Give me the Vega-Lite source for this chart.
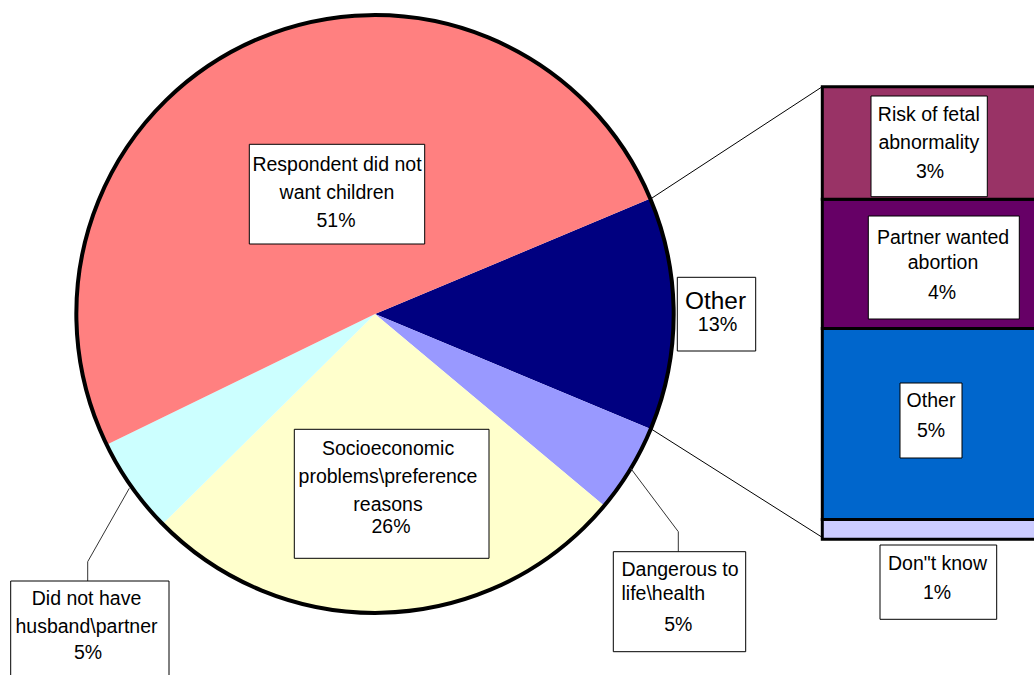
{
  "$schema": "https://vega.github.io/schema/vega-lite/v6.json",
  "width": 750,
  "height": 628,
  "padding": {"left": 0, "top": 0, "right": 284, "bottom": 47},
  "autosize": {"type": "none"},
  "background": "white",
  "config": {
    "view": {"stroke": null},
    "text": {"font": "Liberation Sans", "fontSize": 19.5, "color": "black"}
  },
  "datasets": {
    "pie": [
      {"category": "Other", "value": 12.6, "order": 1, "name": "Other", "pct": "13%"},
      {"category": "Dangerous to life\\health", "value": 4.8, "order": 2, "name": "Dangerous to\nlife\\health", "pct": "5%"},
      {"category": "Socioeconomic problems\\preference reasons", "value": 26.5, "order": 3, "name": "Socioeconomic\nproblems\\preference\nreasons", "pct": "26%"},
      {"category": "Did not have husband\\partner", "value": 5.2, "order": 4, "name": "Did not have\nhusband\\partner", "pct": "5%"},
      {"category": "Respondent did not want children", "value": 50.9, "order": 5, "name": "Respondent did not\nwant children", "pct": "51%"}
    ],
    "bar": [
      {"category": "Don\"t know", "value": 0.55, "order": 1, "group": "Other", "name": "Don\"t know", "pct": "1%"},
      {"category": "Other", "value": 5.32, "order": 2, "group": "Other", "name": "Other", "pct": "5%"},
      {"category": "Partner wanted abortion", "value": 3.6, "order": 3, "group": "Other", "name": "Partner wanted\nabortion", "pct": "4%"},
      {"category": "Risk of fetal abnormality", "value": 3.13, "order": 4, "group": "Other", "name": "Risk of fetal\nabnormality", "pct": "3%"}
    ]
  },
  "layer": [
    {
      "data": {"name": "pie"},
      "mark": {"type": "arc", "outerRadius": 298},
      "encoding": {
        "theta": {"field": "value", "type": "quantitative", "stack": true, "scale": {"range": [1.174083, 7.457268307179586]}},
        "order": {"field": "order", "type": "quantitative"},
        "color": {
          "field": "category", "type": "nominal", "legend": null,
          "scale": {
            "domain": ["Other", "Dangerous to life\\health", "Socioeconomic problems\\preference reasons", "Did not have husband\\partner", "Respondent did not want children"],
            "range": ["#000080", "#9999FF", "#FFFFCC", "#CCFFFF", "#FF8080"]
          }
        }
      }
    },
    {
      "data": {"name": "pie"},
      "mark": {"type": "arc", "outerRadius": 298.5, "fill": "white", "fillOpacity": 0, "stroke": "black", "strokeWidth": 4},
      "encoding": {
        "theta": {"aggregate": "sum", "field": "value", "type": "quantitative", "stack": true}
      }
    },
    {
      "data": {"name": "bar"},
      "mark": {"type": "bar", "stroke": "black", "strokeWidth": 3},
      "encoding": {
        "x": {"field": "group", "type": "nominal", "axis": null, "scale": {"range": [822.3, 1060], "paddingInner": 0, "paddingOuter": 0}},
        "y": {"field": "value", "type": "quantitative", "stack": "zero", "axis": null, "scale": {"domain": [0, 12.6], "range": [539.3, 86.7]}},
        "order": {"field": "order", "type": "quantitative"},
        "color": {
          "field": "category", "type": "nominal", "legend": null,
          "scale": {
            "domain": ["Don\"t know", "Other", "Partner wanted abortion", "Risk of fetal abnormality"],
            "range": ["#CCCCFF", "#0066CC", "#660066", "#993366"]
          }
        }
      }
    },
    {"data": {"values": [{}]}, "mark": {"type": "rule", "color": "black", "strokeWidth": 1}, "encoding": {"x": {"value": 652}, "y": {"value": 198}, "x2": {"value": 822.3}, "y2": {"value": 86.7}}},
    {"data": {"values": [{}]}, "mark": {"type": "rule", "color": "black", "strokeWidth": 1}, "encoding": {"x": {"value": 651.7}, "y": {"value": 429.3}, "x2": {"value": 821.7}, "y2": {"value": 537}}},
    {"data": {"values": [{}]}, "mark": {"type": "rule", "color": "#333333", "strokeWidth": 1}, "encoding": {"x": {"value": 630.7}, "y": {"value": 468.3}, "x2": {"value": 678.3}, "y2": {"value": 531.7}}},
    {"data": {"values": [{}]}, "mark": {"type": "rule", "color": "#333333", "strokeWidth": 1}, "encoding": {"x": {"value": 678.3}, "y": {"value": 531.7}, "x2": {"value": 678.3}, "y2": {"value": 551.7}}},
    {"data": {"values": [{}]}, "mark": {"type": "rule", "color": "#333333", "strokeWidth": 1}, "encoding": {"x": {"value": 129.3}, "y": {"value": 488.3}, "x2": {"value": 87.7}, "y2": {"value": 561.7}}},
    {"data": {"values": [{}]}, "mark": {"type": "rule", "color": "#333333", "strokeWidth": 1}, "encoding": {"x": {"value": 87.7}, "y": {"value": 561.7}, "x2": {"value": 87.7}, "y2": {"value": 581}}},
    {
      "data": {"name": "pie"},
      "transform": [{"filter": "datum.order === 5"}],
      "layer": [
        {"mark": {"type": "rect", "x": 249.3, "x2": 424.7, "y": 144.3, "y2": 244, "fill": "white", "stroke": "black", "strokeWidth": 1}, "encoding": {}},
        {"mark": {"type": "text", "x": 337, "y": 165, "align": "center", "baseline": "middle", "lineBreak": "\n", "lineHeight": 28.3}, "encoding": {"text": {"field": "name"}}},
        {"mark": {"type": "text", "x": 336, "y": 221, "align": "center", "baseline": "middle"}, "encoding": {"text": {"field": "pct"}}}
      ]
    },
    {
      "data": {"name": "pie"},
      "transform": [{"filter": "datum.order === 3"}],
      "layer": [
        {"mark": {"type": "rect", "x": 294.3, "x2": 489, "y": 429.3, "y2": 558.3, "fill": "white", "stroke": "black", "strokeWidth": 1}, "encoding": {}},
        {"mark": {"type": "text", "x": 388, "y": 449.3, "align": "center", "baseline": "middle", "lineBreak": "\n", "lineHeight": 27.85}, "encoding": {"text": {"field": "name"}}},
        {"mark": {"type": "text", "x": 391, "y": 527, "align": "center", "baseline": "middle"}, "encoding": {"text": {"field": "pct"}}}
      ]
    },
    {
      "data": {"name": "pie"},
      "transform": [{"filter": "datum.order === 1"}],
      "layer": [
        {"mark": {"type": "rect", "x": 677.3, "x2": 755.7, "y": 277.3, "y2": 351, "fill": "white", "stroke": "black", "strokeWidth": 1}, "encoding": {}},
        {"mark": {"type": "text", "x": 715.5, "y": 301.7, "align": "center", "baseline": "middle", "fontSize": 24.4}, "encoding": {"text": {"field": "name"}}},
        {"mark": {"type": "text", "x": 717.5, "y": 325, "align": "center", "baseline": "middle", "fontSize": 19.8}, "encoding": {"text": {"field": "pct"}}}
      ]
    },
    {
      "data": {"name": "pie"},
      "transform": [{"filter": "datum.order === 2"}],
      "layer": [
        {"mark": {"type": "rect", "x": 613.3, "x2": 745.7, "y": 551.7, "y2": 651.7, "fill": "white", "stroke": "black", "strokeWidth": 1}, "encoding": {}},
        {"mark": {"type": "text", "x": 621.5, "y": 570, "align": "left", "baseline": "middle", "lineBreak": "\n", "lineHeight": 24}, "encoding": {"text": {"field": "name"}}},
        {"mark": {"type": "text", "x": 678.3, "y": 625, "align": "center", "baseline": "middle"}, "encoding": {"text": {"field": "pct"}}}
      ]
    },
    {
      "data": {"name": "pie"},
      "transform": [{"filter": "datum.order === 4"}],
      "layer": [
        {"mark": {"type": "rect", "x": 10.7, "x2": 169, "y": 581, "y2": 700, "fill": "white", "stroke": "black", "strokeWidth": 1}, "encoding": {}},
        {"mark": {"type": "text", "x": 86.5, "y": 599, "align": "center", "baseline": "middle", "lineBreak": "\n", "lineHeight": 28.3}, "encoding": {"text": {"field": "name"}}},
        {"mark": {"type": "text", "x": 88, "y": 653.3, "align": "center", "baseline": "middle"}, "encoding": {"text": {"field": "pct"}}}
      ]
    },
    {
      "data": {"name": "bar"},
      "transform": [{"filter": "datum.order === 4"}],
      "layer": [
        {"mark": {"type": "rect", "x": 871, "x2": 987.3, "y": 96, "y2": 196.7, "fill": "white", "stroke": "black", "strokeWidth": 1}, "encoding": {}},
        {"mark": {"type": "text", "x": 928.8, "y": 115, "align": "center", "baseline": "middle", "lineBreak": "\n", "lineHeight": 28.3}, "encoding": {"text": {"field": "name"}}},
        {"mark": {"type": "text", "x": 930, "y": 171.7, "align": "center", "baseline": "middle"}, "encoding": {"text": {"field": "pct"}}}
      ]
    },
    {
      "data": {"name": "bar"},
      "transform": [{"filter": "datum.order === 3"}],
      "layer": [
        {"mark": {"type": "rect", "x": 868.3, "x2": 1019.3, "y": 216, "y2": 319, "fill": "white", "stroke": "black", "strokeWidth": 1}, "encoding": {}},
        {"mark": {"type": "text", "x": 943, "y": 238.3, "align": "center", "baseline": "middle", "lineBreak": "\n", "lineHeight": 24.4}, "encoding": {"text": {"field": "name"}}},
        {"mark": {"type": "text", "x": 942, "y": 293.3, "align": "center", "baseline": "middle"}, "encoding": {"text": {"field": "pct"}}}
      ]
    },
    {
      "data": {"name": "bar"},
      "transform": [{"filter": "datum.order === 2"}],
      "layer": [
        {"mark": {"type": "rect", "x": 900, "x2": 962, "y": 383, "y2": 458, "fill": "white", "stroke": "black", "strokeWidth": 1}, "encoding": {}},
        {"mark": {"type": "text", "x": 931, "y": 401, "align": "center", "baseline": "middle"}, "encoding": {"text": {"field": "name"}}},
        {"mark": {"type": "text", "x": 931, "y": 431, "align": "center", "baseline": "middle"}, "encoding": {"text": {"field": "pct"}}}
      ]
    },
    {
      "data": {"name": "bar"},
      "transform": [{"filter": "datum.order === 1"}],
      "layer": [
        {"mark": {"type": "rect", "x": 880, "x2": 996.7, "y": 545, "y2": 619.3, "fill": "white", "stroke": "black", "strokeWidth": 1}, "encoding": {}},
        {"mark": {"type": "text", "x": 937.5, "y": 564, "align": "center", "baseline": "middle"}, "encoding": {"text": {"field": "name"}}},
        {"mark": {"type": "text", "x": 937, "y": 592.7, "align": "center", "baseline": "middle"}, "encoding": {"text": {"field": "pct"}}}
      ]
    }
  ],
  "resolve": {"scale": {"color": "independent"}}
}
